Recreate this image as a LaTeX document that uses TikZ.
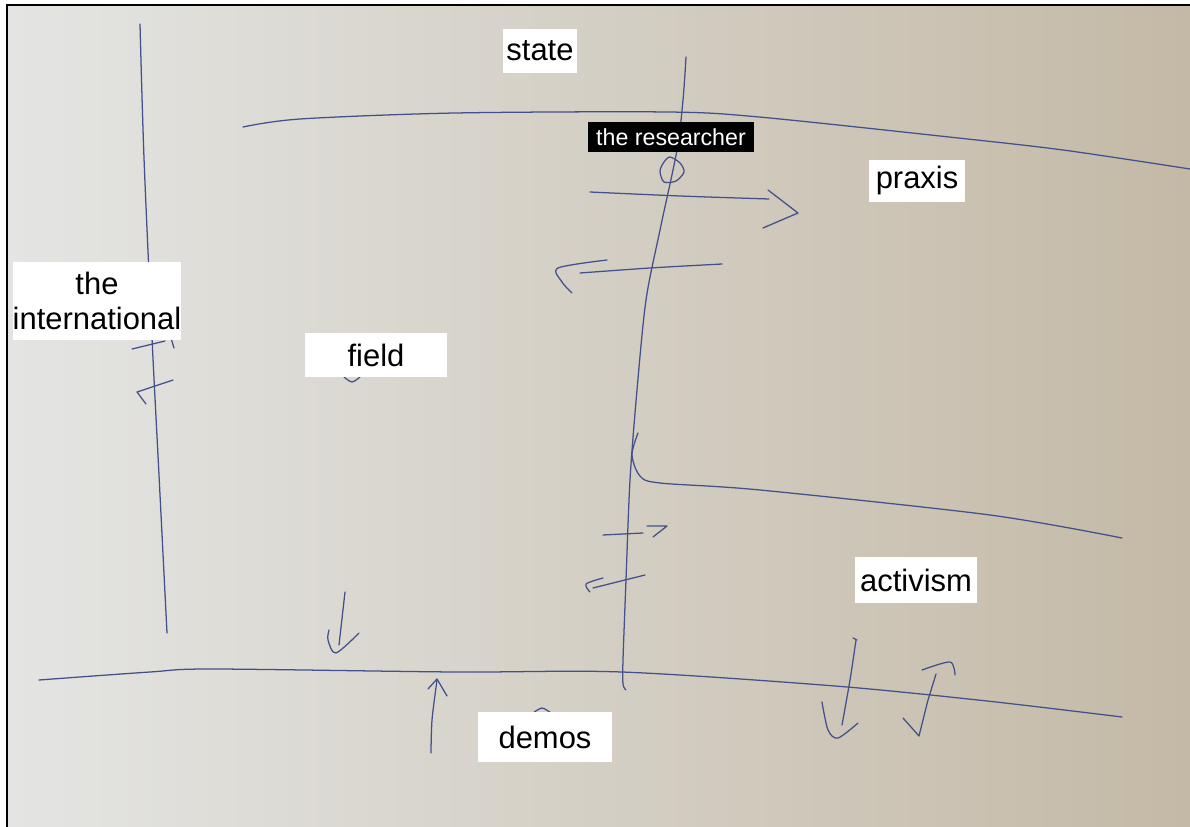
\documentclass[tikz,border=0pt]{standalone}
\usepackage{fontspec}
\setmainfont{Liberation Sans}
\definecolor{paperL}{RGB}{228,229,227}
\definecolor{paperM}{RGB}{218,216,209}
\definecolor{paperR}{RGB}{196,185,166}
\definecolor{ink}{RGB}{68,80,140}
\begin{document}
\begin{tikzpicture}[x=0.025cm, y=-0.025cm,
    pen/.style={draw=ink, line width=0.9pt, line cap=round, line join=round},
    lbl/.style={fill=white, inner sep=0pt, align=center, font=\fontsize{22}{25}\selectfont},
    rsch/.style={fill=black, text=white, inner sep=0pt, font=\fontsize{16.5}{20}\selectfont}]
    \useasboundingbox (0,0) rectangle (1190,827);
    % paper
    \fill[white] (0,0) rectangle (1190,827);
    \shade[left color=paperL, middle color=paperM, right color=paperR] (7,5) rectangle (1190,827);
    \draw[line width=1.2pt] (7,827) -- (7,5) -- (1190,5);
    % the international, down the left side
    \draw[pen] plot[smooth] coordinates {(140,24) (144,158) (152,338) (159,475) (167,633)};
    \draw[pen] (132,349) -- (165,341);
    \draw[pen] (171,338) -- (174,348);
    \draw[pen] (173,380) -- (137,392) -- (146,404);
    % state boundary
    \draw[pen] plot[smooth] coordinates {(243,127) (300,119) (455,113) (668,112) (759,117) (949,137) (1063,150) (1190,169)};
    % the researcher's line
    \draw[pen] plot[smooth] coordinates {(686,57) (683,100) (677,150) (660,230) (646,300) (637,390) (630,480) (626,580) (623,660) (623,684) (626,690)};
    \draw[pen] plot[smooth cycle] coordinates {(670,157) (680,163) (684,172) (676,181) (664,182) (660,171) (664,162)};
    % towards praxis and back
    \draw[pen] plot[smooth] coordinates {(590,192) (680,196) (769,199)};
    \draw[pen] (768,190) -- (798,213) -- (763,228);
    \draw[pen] plot[smooth] coordinates {(722,264) (650,268) (580,273)};
    \draw[pen] plot[smooth] coordinates {(607,260) (558,268) (562,282) (572,293)};
    % activism boundary, bending up to the researcher
    \draw[pen] plot[smooth] coordinates {(1122,538) (990,515) (760,490) (660,483) (640,476) (632,455) (638,433)};
    \draw[pen] (603,535) -- (643,533);
    \draw[pen] (647,526) -- (667,526) -- (653,537);
    \draw[pen] (645,575) -- (593,588);
    \draw[pen] plot[smooth] coordinates {(603,578) (586,584) (590,592)};
    % demos boundary
    \draw[pen] plot[smooth] coordinates {(39,680) (150,672) (212,669) (455,672) (622,672) (835,686) (987,701) (1122,717)};
    % field -> demos
    \draw[pen] (345,592) -- (339,645);
    \draw[pen] plot[smooth] coordinates {(329,630) (328,640) (336,653) (359,633)};
    % demos -> field
    \draw[pen] plot[smooth] coordinates {(431,753) (432,720) (437,680)};
    \draw[pen] (428,689) -- (437,679) -- (447,696);
    % activism <-> demos
    \draw[pen] (853,638) -- (857,640);
    \draw[pen] plot[smooth] coordinates {(856,640) (850,680) (842,725)};
    \draw[pen] plot[smooth] coordinates {(822,702) (828,730) (838,738) (858,723)};
    \draw[pen] (903,718) -- (919,736) -- (928,700) -- (936,674);
    \draw[pen] plot[smooth] coordinates {(922,670) (950,662) (955,675)};
    % bits peeking out behind the labels
    \draw[pen] plot[smooth] coordinates {(344,377) (352,382) (360,377)};
    \draw[pen] plot[smooth] coordinates {(533,713) (542,708) (551,713)};
    % labels
    \node[lbl, minimum width=1.825cm, minimum height=1.075cm] (state) at (540,51) {state};
    \node[rsch, minimum width=4.15cm, minimum height=0.75cm] (researcher) at (671,137) {the researcher};
    \node[lbl, minimum width=2.375cm, minimum height=1.05cm] (praxis) at (917,181) {praxis};
    \node[lbl, minimum width=4.125cm, minimum height=1.95cm] (international) at (97,301) {the\\international};
    \node[lbl, minimum width=3.55cm, minimum height=1.1cm] (field) at (376,355) {field};
    \node[lbl, minimum width=3.025cm, minimum height=1.125cm] (activism) at (916,580) {activism};
    \node[lbl, minimum width=3.35cm, minimum height=1.25cm] (demos) at (545,737) {demos};
\end{tikzpicture}
\end{document}
